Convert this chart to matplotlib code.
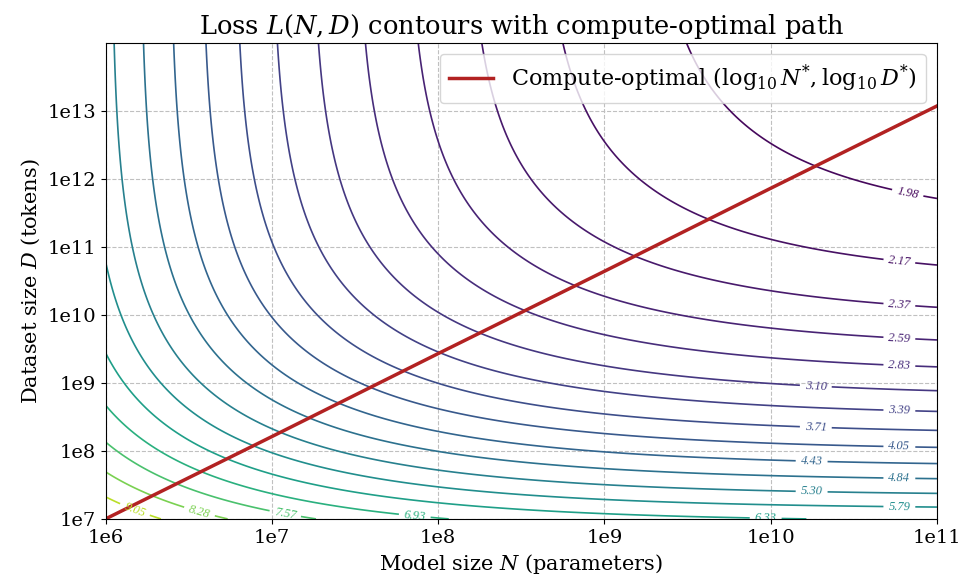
import numpy as np
import matplotlib
matplotlib.use("Agg")
import matplotlib.pyplot as plt
from matplotlib.ticker import FixedLocator, FuncFormatter

plt.rcParams['font.family'] = ['DejaVu Serif']
plt.rcParams['mathtext.fontset'] = 'dejavuserif'

# Chinchilla-style loss fit L(N,D) = E + A/N^alpha + B/D^beta
E = 1.69
A = 406.4
B = 410.7
alpha = 0.34
beta = 0.28

# contour levels as labelled in the picture
levels = [1.81, 1.98, 2.17, 2.37, 2.59, 2.83, 3.10, 3.39, 3.71, 4.05,
          4.43, 4.84, 5.30, 5.79, 6.33, 6.93, 7.57, 8.28, 9.05, 9.90]

# compute-optimal path (log10 values)
opt_logN = [6.0, 7.0, 8.0, 9.0, 10.0, 11.0]
opt_logD = [7.00, 8.21, 9.43, 10.64, 11.86, 13.07]

xticks = [6, 7, 8, 9, 10, 11]
yticks = [7, 8, 9, 10, 11, 12, 13]

logN = np.linspace(6, 11, 200)
logD = np.linspace(7, 14, 200)
NN, DD = np.meshgrid(logN, logD)
L = E + A / 10**(alpha*NN) + B / 10**(beta*DD)

fig = plt.figure(figsize=(9.6, 5.85), dpi=100)
ax = fig.add_axes([0.110, 0.113, 0.866, 0.814])

cs = ax.contour(NN, DD, L, levels=levels, cmap='viridis', linewidths=1.2)
# label font must be set before clabel so label widths are measured with it
with plt.rc_context({'font.family': ['Liberation Serif'], 'font.style': 'italic'}):
    ax.clabel(cs, inline=True, fmt='%.2f', fontsize=9)

ax.plot(opt_logN, opt_logD, color='#b22222', lw=2.5,
        label=r'Compute-optimal ($\log_{10}N^{*}, \log_{10}D^{*}$)')

ax.set_xlim(6, 11)
ax.set_ylim(7, 14)
ax.xaxis.set_major_locator(FixedLocator(xticks))
ax.yaxis.set_major_locator(FixedLocator(yticks))
ax.xaxis.set_major_formatter(FuncFormatter(lambda v, p: '1e%d' % round(v)))
ax.yaxis.set_major_formatter(FuncFormatter(lambda v, p: '1e%d' % round(v)))
ax.tick_params(labelsize=14)
ax.grid(True, ls='--', color='#c0c0c0', lw=0.8)

ax.set_xlabel(r'Model size $N$ (parameters)', fontsize=15)
ax.set_ylabel(r'Dataset size $D$ (tokens)', fontsize=15)
ax.set_title(r'Loss $L(N,D)$ contours with compute-optimal path', fontsize=18.5)
ax.legend(loc='upper right', fontsize=16)

fig.savefig('out.png', dpi=100)
